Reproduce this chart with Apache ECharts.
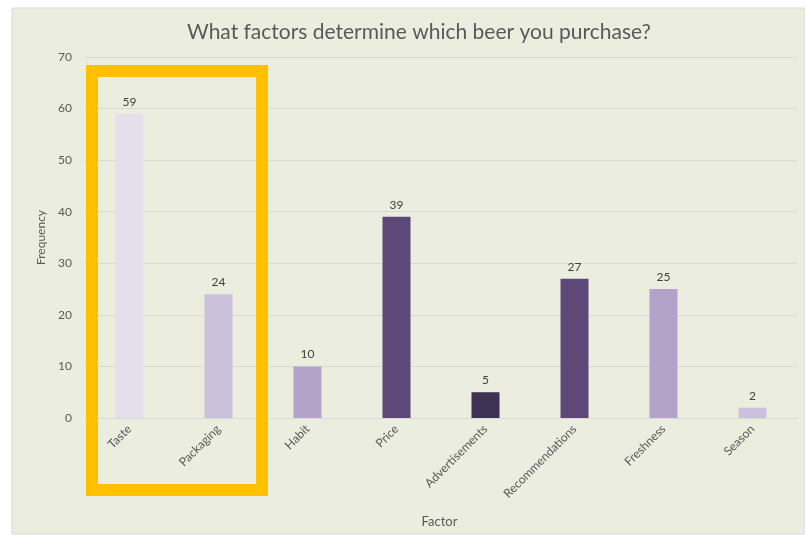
<!DOCTYPE html>
<html>
<head>
<meta charset="utf-8">
<script src="https://cdn.jsdelivr.net/npm/echarts@6/dist/echarts.min.js"></script>
<style>
  html, body { margin: 0; padding: 0; background: #ffffff; }
  #chart { width: 805px; height: 535px; }
</style>
</head>
<body>
<div id="chart"></div>
<script>
// Survey responses: what drives a beer purchase
const factors = ['Taste', 'Packaging', 'Habit', 'Price', 'Advertisements', 'Recommendations', 'Freshness', 'Season'];
const frequency = [59, 24, 10, 39, 5, 27, 25, 2];
const barColors = ['#e3dfeb', '#cbc1dc', '#b3a2c9', '#5d4878', '#3f3151', '#5d4878', '#b3a2c9', '#cbc1dc'];
const yTicks = { min: 0, max: 70, interval: 10 };

const textColor = '#595959';
const fontFamily = 'Lato, "Open Sans", sans-serif';

const chart = echarts.init(document.getElementById('chart'), null, { renderer: 'canvas' });

chart.setOption({
  animation: false,
  backgroundColor: '#ffffff',
  textStyle: { fontFamily: fontFamily },
  title: {
    text: 'What factors determine which beer you purchase?',
    left: 414,
    top: 17,
    textAlign: 'center',
    textStyle: { fontSize: 21, fontWeight: 'normal', color: textColor, fontFamily: fontFamily }
  },
  grid: { left: 85, right: 8, top: 57, bottom: 117 },
  xAxis: {
    type: 'category',
    data: factors,
    name: 'Factor',
    nameLocation: 'middle',
    nameGap: 97,
    nameTextStyle: { color: textColor, fontSize: 13, padding: [0, 0, 0, -3] },
    axisLine: { show: true, lineStyle: { color: '#d9d9d9' } },
    axisTick: { show: false },
    axisLabel: { rotate: 45, color: textColor, fontSize: 12, margin: 9, interval: 0 }
  },
  yAxis: {
    type: 'value',
    min: yTicks.min,
    max: yTicks.max,
    interval: yTicks.interval,
    name: 'Frequency',
    nameLocation: 'middle',
    nameGap: 36,
    nameTextStyle: { color: textColor, fontSize: 12 },
    axisLine: { show: false },
    axisTick: { show: false },
    axisLabel: { color: textColor, fontSize: 12, margin: 13 },
    splitLine: { lineStyle: { color: '#d9d9d9', width: 1 } }
  },
  series: [{
    type: 'bar',
    data: frequency.map((v, i) => ({ value: v, itemStyle: { color: barColors[i] } })),
    barWidth: 28,
    label: { show: true, position: 'top', distance: 6, color: '#404040', fontSize: 12 }
  }],
  graphic: [
    {
      // panel background
      type: 'rect', z: -10, silent: true,
      shape: { x: 12, y: 8, width: 793, height: 526 },
      style: { fill: '#ebeedf', stroke: '#d9d9d9', lineWidth: 1 }
    },
    {
      // highlight frame around the first two factors
      type: 'rect', z: 100, silent: true,
      shape: { x: 92, y: 71, width: 170, height: 419 },
      style: { fill: 'none', stroke: '#ffc000', lineWidth: 12 }
    }
  ]
});
</script>
</body>
</html>
